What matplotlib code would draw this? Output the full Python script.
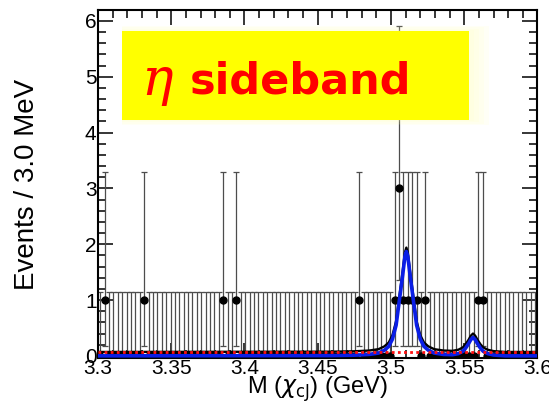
import numpy as np
import matplotlib
matplotlib.use("Agg")
import matplotlib.pyplot as plt
from matplotlib.patches import Rectangle
from matplotlib.ticker import MultipleLocator

# histogram: 100 bins of 3 MeV from 3.3 to 3.6 GeV
x_lo, x_hi, bin_w = 3.3, 3.6, 0.003

# bins with entries (everything else is empty)
hit_centers = [3.3045, 3.3315, 3.3855, 3.3945, 3.4785, 3.5025, 3.5055,
               3.5085, 3.5115, 3.5145, 3.5175, 3.5235, 3.5595, 3.5625]
hit_counts = [1, 1, 1, 1, 1, 1, 3, 1, 1, 1, 1, 1, 1, 1]

# poisson errors (as drawn by ROOT)
err_low = {0: 0.0, 1: 0.827, 3: 1.633}
err_high = {0: 1.148, 1: 2.299, 3: 2.918}

# fitted curves
bkg_level = 0.07
sig_x = [3.300, 3.460, 3.475, 3.485, 3.4915, 3.4955, 3.4985, 3.501, 3.5035,
         3.5055, 3.508, 3.5095, 3.5105, 3.5115, 3.513, 3.5155, 3.5175, 3.520,
         3.5225, 3.5255, 3.5295, 3.536, 3.542, 3.546, 3.549, 3.551, 3.553,
         3.5545, 3.556, 3.5575, 3.559, 3.561, 3.563, 3.566, 3.570, 3.578, 3.600]
sig_y = [0.0, 0.005, 0.012, 0.025, 0.05, 0.10, 0.17, 0.30, 0.55,
         0.95, 1.45, 1.78, 1.87, 1.78, 1.45, 0.95, 0.55, 0.30,
         0.17, 0.10, 0.05, 0.025, 0.02, 0.04, 0.08, 0.14, 0.22,
         0.29, 0.33, 0.29, 0.22, 0.14, 0.08, 0.04, 0.015, 0.0, 0.0]

centers = np.arange(x_lo + bin_w / 2, x_hi, bin_w)
counts = np.zeros(len(centers), dtype=int)
for c, n in zip(hit_centers, hit_counts):
    counts[np.argmin(np.abs(centers - c))] = n
lo = np.array([err_low[n] for n in counts])
hi = np.array([err_high[n] for n in counts])

fig = plt.figure(figsize=(5.49, 4.01), dpi=100)
ax = fig.add_axes([0.1785, 0.107, 0.8005, 0.8686])

ax.errorbar(centers, counts, yerr=[lo, hi], fmt='o', color='black', ms=5,
            ecolor='0.3', elinewidth=0.9, capsize=2.2, capthick=0.9, zorder=2)

sig_x = np.array(sig_x)
sig_y = np.array(sig_y)
ax.plot(sig_x, sig_y + bkg_level, color='black', lw=1.7, zorder=3)
ax.plot(sig_x, sig_y, color='#0a1ee6', lw=2.6, zorder=5)
ax.plot([x_lo, x_hi], [bkg_level, bkg_level], color='#ff1010', lw=2.0,
        ls=(0, (1.0, 1.2)), zorder=6)

ax.set_xlim(x_lo, x_hi)
ax.set_ylim(-0.04, 6.2)

tick_font = {'family': 'Liberation Sans', 'size': 15}
ax.xaxis.set_minor_locator(MultipleLocator(0.01))
ax.yaxis.set_minor_locator(MultipleLocator(0.2))
ax.set_xticks([3.3, 3.35, 3.4, 3.45, 3.5, 3.55, 3.6])
ax.set_xticklabels(['3.3', '3.35', '3.4', '3.45', '3.5', '3.55', '3.6'], fontdict=tick_font)
ax.set_yticks([0, 1, 2, 3, 4, 5, 6])
ax.set_yticklabels(['0', '1', '2', '3', '4', '5', '6'], fontdict=tick_font)
ax.tick_params(which='both', direction='in', top=True, right=True, width=1.1)
ax.tick_params(which='major', length=11, pad=1)
ax.tick_params(which='minor', length=6)
for s in ax.spines.values():
    s.set_linewidth(1.5)

ax.set_ylabel('Events / 3.0 MeV', family='Liberation Sans', size=20, labelpad=32)
ax.set_xlabel(r'M ($\chi_{\mathrm{cJ}}$) (GeV)', family='Liberation Sans', size=17,
              labelpad=-3)

# yellow label box with a faint glow on the right
for k in range(1, 5):
    fig.patches.append(Rectangle((0.2222, 0.7007 - 0.003 * k), 0.632 + 0.009 * k,
                                 0.222 + 0.006 * k, transform=fig.transFigure,
                                 facecolor='#ffffb0', edgecolor='none', alpha=0.10,
                                 zorder=10))
fig.patches.append(Rectangle((0.2222, 0.7007), 0.632, 0.222, transform=fig.transFigure,
                             facecolor='#ffff00', edgecolor='none', zorder=11))
fig.text(0.258, 0.762, 'η', color='red', size=38, family='DejaVu Serif',
         style='italic', zorder=12)
fig.text(0.346, 0.766, 'sideband', color='red', size=31, family='DejaVu Sans',
         weight='bold', zorder=12)

fig.savefig('out.png', dpi=100)
